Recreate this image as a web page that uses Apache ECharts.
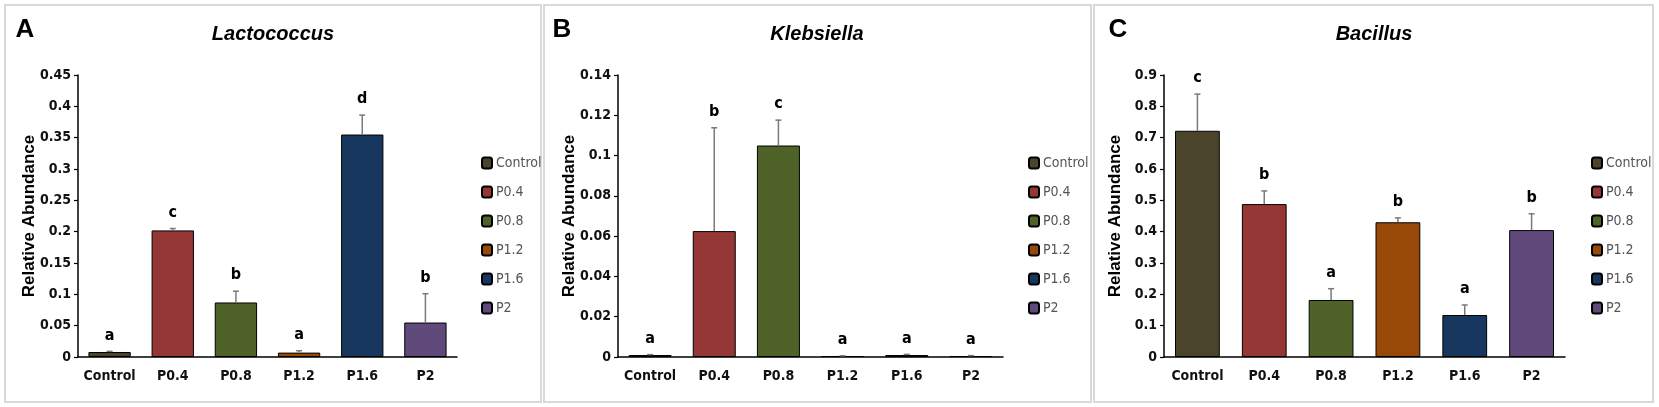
<!DOCTYPE html>
<html><head><meta charset="utf-8">
<script src="https://cdn.jsdelivr.net/npm/echarts@6/dist/echarts.min.js"></script>
<style>html,body{margin:0;padding:0;background:#fff}#c{width:1659px;height:407px}</style>
</head><body><div id="c"></div>
<script>
// ---- data ----
const categories = ['Control', 'P0.4', 'P0.8', 'P1.2', 'P1.6', 'P2'];
const panelNames = ['Lactococcus', 'Klebsiella', 'Bacillus'];
const panelTags = ['A', 'B', 'C'];

const lactoMean = [0.008, 0.202, 0.087, 0.007, 0.355, 0.055];
const lactoErr = [0.001, 0.003, 0.018, 0.003, 0.031, 0.046];
const lactoLetters = ['a', 'c', 'b', 'a', 'd', 'b'];

const klebMean = [0.001, 0.0625, 0.105, 0.0005, 0.001, 0.0005];
const klebErr = [0.0002, 0.0513, 0.0126, 0.0001, 0.0003, 0.0002];
const klebLetters = ['a', 'b', 'c', 'a', 'a', 'a'];

const bacMean = [0.722, 0.488, 0.182, 0.430, 0.134, 0.405];
const bacErr = [0.117, 0.042, 0.036, 0.014, 0.032, 0.052];
const bacLetters = ['c', 'b', 'a', 'b', 'a', 'b'];

const yMax = [0.45, 0.14, 0.9];
const yStep = [0.05, 0.02, 0.1];

// ---- style / layout ----
const colors = ['#4A452A', '#953735', '#4F6228', '#984807', '#17375E', '#604A7B'];
const means = [lactoMean, klebMean, bacMean];
const errs = [lactoErr, klebErr, bacErr];
const letters = [lactoLetters, klebLetters, bacLetters];

const grids = [
  {left: 78, top: 75, width: 379, height: 282},
  {left: 618, top: 75, width: 385, height: 282},
  {left: 1164, top: 75, width: 401, height: 282}
];
const panels = [
  {x: 5, w: 536, tagX: 25, titleX: 273, legendX: 476},
  {x: 544, w: 547, tagX: 562, titleX: 817, legendX: 1023},
  {x: 1094, w: 559, tagX: 1118, titleX: 1374, legendX: 1586}
];
const narrow = "'DejaVu Sans Condensed', 'Liberation Sans Narrow', sans-serif";
const sans = "'Liberation Sans', Arial, sans-serif";

const series = [];
const xAxes = [], yAxes = [], legends = [], graphics = [];

panels.forEach((p, k) => {
  xAxes.push({
    type: 'category', gridIndex: k, data: categories,
    axisLine: {lineStyle: {color: '#000', width: 1.5}},
    axisTick: {show: false},
    axisLabel: {interval: 0, color: '#111', fontFamily: narrow, fontWeight: 'bold', fontSize: 14, margin: 12}
  });
  yAxes.push({
    type: 'value', gridIndex: k, min: 0, max: yMax[k], interval: yStep[k],
    name: 'Relative Abundance', nameLocation: 'middle', nameGap: 40, nameRotate: 90,
    nameMoveOverlap: false,
    nameTextStyle: {color: '#000', fontFamily: sans, fontWeight: 'bold', fontSize: 17},
    axisLine: {show: true, lineStyle: {color: '#000', width: 1.5}},
    axisTick: {show: true, length: 4, lineStyle: {color: '#000', width: 1.2}},
    splitLine: {show: false},
    axisLabel: {color: '#111', fontFamily: narrow, fontWeight: 'bold', fontSize: 14, margin: 7}
  });
  legends.push({
    orient: 'vertical', left: p.legendX, top: 151,
    itemWidth: 10, itemHeight: 11, itemGap: 15,
    data: categories, selectedMode: false,
    textStyle: {color: '#555', fontFamily: narrow, fontSize: 14, padding: [0, 0, 0, -1]}
  });
  categories.forEach((c, i) => {
    series.push({
      type: 'bar', name: c, xAxisIndex: k, yAxisIndex: k, stack: 'p' + k,
      barWidth: '67%',
      itemStyle: {color: colors[i], borderColor: '#000', borderWidth: 1},
      data: categories.map((_, j) => j === i ? means[k][i] : '-')
    });
  });
  const lt = letters[k];
  series.push({
    type: 'custom', name: 'err' + k, xAxisIndex: k, yAxisIndex: k, z: 5,
    data: categories.map((_, i) => [i, means[k][i], means[k][i] + errs[k][i]]),
    encode: {x: 0, y: 1},
    renderItem: function (params, api) {
      const i = api.value(0);
      const p0 = api.coord([i, api.value(1)]);
      const p1 = api.coord([i, api.value(2)]);
      const st = {stroke: '#7a7a7a', lineWidth: 1.5};
      return {type: 'group', children: [
        {type: 'line', shape: {x1: p0[0], y1: p0[1], x2: p1[0], y2: p1[1]}, style: st},
        {type: 'line', shape: {x1: p1[0] - 3, y1: p1[1], x2: p1[0] + 3, y2: p1[1]}, style: st},
        {type: 'text', x: p1[0], y: p1[1] - 16, style: {
          text: lt[params.dataIndex], fill: '#000', align: 'center', verticalAlign: 'middle',
          fontFamily: narrow, fontWeight: 'bold', fontSize: 16}}
      ]};
    }
  });
  graphics.push({type: 'rect', silent: true, shape: {x: p.x, y: 5, width: p.w, height: 397},
    style: {fill: 'none', stroke: '#d9d9d9', lineWidth: 2}, z: -1});
  graphics.push({type: 'text', x: p.tagX, y: 30, style: {text: panelTags[k], fill: '#000',
    font: 'bold 26px ' + sans, align: 'center', verticalAlign: 'middle'}});
  graphics.push({type: 'text', x: p.titleX, y: 34, style: {text: panelNames[k], fill: '#000',
    font: 'italic bold 20px ' + sans, align: 'center', verticalAlign: 'middle'}});
});

const chart = echarts.init(document.getElementById('c'), null, {renderer: 'canvas'});
chart.setOption({
  backgroundColor: '#fff',
  animation: false,
  grid: grids,
  xAxis: xAxes,
  yAxis: yAxes,
  legend: legends,
  series: series,
  graphic: graphics
});
</script></body></html>
